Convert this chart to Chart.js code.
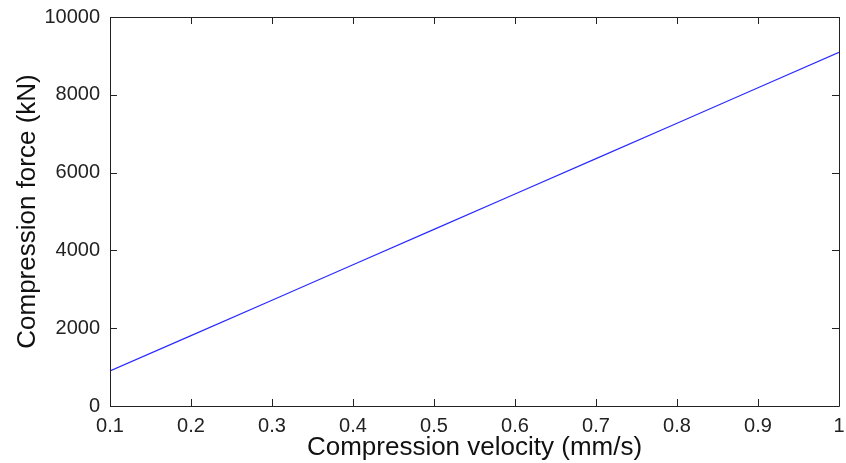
<!DOCTYPE html>
<html lang="en">
<head>
    <meta charset="UTF-8">
    <title>Compression force vs velocity</title>
    <script src="https://cdn.jsdelivr.net/npm/chart.js"></script>
    <style>
        html, body {
            margin: 0;
            padding: 0;
            background: #ffffff;
        }
        #wrap {
            width: 846px;
            height: 463px;
        }
    </style>
</head>
<body>
<div id="wrap">
    <canvas id="forceChart" width="846" height="463"></canvas>
</div>

<script>
    // values
    const velocity = [0.1, 0.2, 0.3, 0.4, 0.5, 0.6, 0.7, 0.8, 0.9, 1.0];
    const force = [900, 1810, 2720, 3630, 4540, 5450, 6360, 7270, 8180, 9090];
    const xTicks = [0.1, 0.2, 0.3, 0.4, 0.5, 0.6, 0.7, 0.8, 0.9, 1];
    const yTicks = [0, 2000, 4000, 6000, 8000, 10000];

    const axisColor = '#222222';
    const fontFamily = "'Liberation Sans', Arial, Helvetica, sans-serif";

    // matlab style box with inward ticks on all four sides
    const boxTicks = {
        id: 'boxTicks',
        afterDraw(chart) {
            const ctx = chart.ctx;
            const area = chart.chartArea;
            const xs = chart.scales.x;
            const ys = chart.scales.y;
            const len = 7;
            ctx.save();
            ctx.strokeStyle = axisColor;
            ctx.lineWidth = 1;
            ctx.beginPath();
            ctx.rect(Math.round(area.left) + 0.5, Math.round(area.top) + 0.5,
                Math.round(area.right - area.left), Math.round(area.bottom - area.top));
            xTicks.forEach(v => {
                const px = Math.round(xs.getPixelForValue(v)) + 0.5;
                ctx.moveTo(px, area.bottom);
                ctx.lineTo(px, area.bottom - len);
                ctx.moveTo(px, area.top);
                ctx.lineTo(px, area.top + len);
            });
            yTicks.forEach(v => {
                const py = Math.round(ys.getPixelForValue(v)) + 0.5;
                ctx.moveTo(area.left, py);
                ctx.lineTo(area.left + len, py);
                ctx.moveTo(area.right, py);
                ctx.lineTo(area.right - len, py);
            });
            ctx.stroke();
            ctx.restore();
        }
    };

    new Chart(document.getElementById('forceChart'), {
        type: 'line',
        data: {
            datasets: [{
                data: velocity.map((v, i) => ({ x: v, y: force[i] })),
                borderColor: '#2a2aff',
                borderWidth: 1.2,
                pointRadius: 0,
                fill: false,
                tension: 0
            }]
        },
        options: {
            responsive: false,
            animation: false,
            layout: {
                padding: { left: 0, right: 7, top: 17, bottom: 0 }
            },
            plugins: {
                legend: { display: false },
                tooltip: { enabled: false }
            },
            scales: {
                x: {
                    type: 'linear',
                    min: 0.1,
                    max: 1,
                    afterBuildTicks(scale) {
                        scale.ticks = xTicks.map(v => ({ value: v }));
                    },
                    afterFit(scale) {
                        scale.height = 57;
                        scale.paddingLeft = 0;
                        scale.paddingRight = 0;
                    },
                    grid: { display: false, drawTicks: false },
                    border: { display: false },
                    ticks: {
                        color: axisColor,
                        padding: 8,
                        maxRotation: 0,
                        autoSkip: false,
                        font: { family: fontFamily, size: 20 },
                        callback: v => String(Math.round(v * 10) / 10)
                    },
                    title: {
                        display: true,
                        text: 'Compression velocity (mm/s)',
                        color: '#111111',
                        font: { family: fontFamily, size: 26 },
                        padding: { top: 0, bottom: 0 }
                    }
                },
                y: {
                    min: 0,
                    max: 10000,
                    afterBuildTicks(scale) {
                        scale.ticks = yTicks.map(v => ({ value: v }));
                    },
                    afterFit(scale) {
                        scale.width = 110;
                        scale.paddingTop = 0;
                        scale.paddingBottom = 0;
                    },
                    grid: { display: false, drawTicks: false },
                    border: { display: false },
                    ticks: {
                        color: axisColor,
                        padding: 10,
                        font: { family: fontFamily, size: 20 },
                        callback: v => String(v)
                    },
                    title: {
                        display: true,
                        text: 'Compression force (kN)',
                        color: '#111111',
                        font: { family: fontFamily, size: 26 },
                        padding: { top: 12, bottom: 0 }
                    }
                }
            }
        },
        plugins: [boxTicks]
    });
</script>
</body>
</html>
